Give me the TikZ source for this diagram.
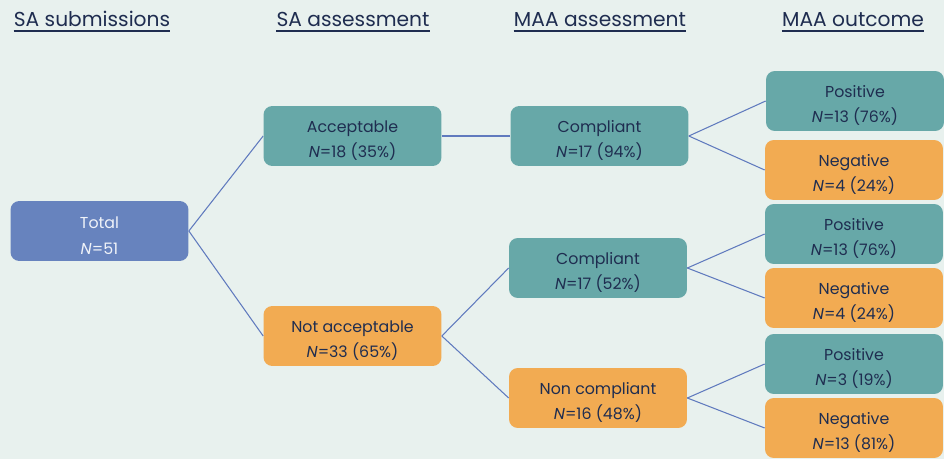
\documentclass[tikz,border=0pt]{standalone}
\usepackage{fontspec}
\setmainfont{Poppins}
\usetikzlibrary{positioning,calc}
\usepackage{xcolor}
\definecolor{pagebg}{RGB}{232,241,238}
\definecolor{tealbx}{RGB}{103,168,168}
\definecolor{orangebx}{RGB}{242,171,82}
\definecolor{totalbx}{RGB}{103,131,190}
\definecolor{navy}{RGB}{31,45,80}
\definecolor{linkc}{RGB}{96,122,190}

\begin{document}
\begin{tikzpicture}[
    x=0.02cm, y=-0.02cm,
    every node/.style={font=\fontsize{9}{14.5}\selectfont, text=navy},
    nd/.style={rectangle, rounded corners=5pt, minimum width=3.56cm, minimum height=1.2cm, align=center, inner sep=2pt, text height=26.5pt},
    tot/.style={nd, fill=totalbx, text=white!90!totalbx},
    ok/.style={nd, fill=tealbx},
    bad/.style={nd, fill=orangebx},
    hd/.style={font=\fontsize{11.5}{14}\selectfont, inner sep=0pt, anchor=base},
    ln/.style={linkc, line width=0.6pt},
]

% ── Background ──
\fill[pagebg] (0,0) rectangle (944,459);
\useasboundingbox (0,0) rectangle (944,459);

% ── Column headings ──
\node[hd] (h1) at (92,27)  {SA submissions};
\node[hd] (h2) at (353,27) {SA assessment};
\node[hd] (h3) at (600,27) {MAA assessment};
\node[hd] (h4) at (853,27) {MAA outcome};
\foreach \h in {h1,h2,h3,h4}
  \draw[navy, line width=0.6pt] ($(\h.base west)+(0,4)$) -- ($(\h.base east)+(0,4)$);

% ── Total ──
\node[tot] (tot) at (99.5,231) {Total\\\textit{N}=51};

% ── SA assessment ──
\node[ok]  (acc)  at (352.5,136) {Acceptable\\\textit{N}=18 (35\%)};
\node[bad] (nacc) at (352.5,336) {Not acceptable\\\textit{N}=33 (65\%)};

% ── MAA assessment ──
\node[ok]  (c1) at (599.5,136) {Compliant\\\textit{N}=17 (94\%)};
\node[ok]  (c2) at (598,268)   {Compliant\\\textit{N}=17 (52\%)};
\node[bad] (nc) at (598,398)   {Non compliant\\\textit{N}=16 (48\%)};

% ── MAA outcome ──
\node[ok]  (p1) at (855,101) {Positive\\\textit{N}=13 (76\%)};
\node[bad] (n1) at (854,170) {Negative\\\textit{N}=4 (24\%)};
\node[ok]  (p2) at (854,234) {Positive\\\textit{N}=13 (76\%)};
\node[bad] (n2) at (854,298) {Negative\\\textit{N}=4 (24\%)};
\node[ok]  (p3) at (854,364) {Positive\\\textit{N}=3 (19\%)};
\node[bad] (n3) at (854,428) {Negative\\\textit{N}=13 (81\%)};

% ── Links ──
\draw[ln] (tot.east) -- (acc.west);
\draw[ln] (tot.east) -- (nacc.west);
\draw[ln] (acc.east) -- (c1.west);
\draw[ln] (nacc.east) -- (c2.west);
\draw[ln] (nacc.east) -- (nc.west);
\draw[ln] (c1.east) -- (p1.west);
\draw[ln] (c1.east) -- (n1.west);
\draw[ln] (c2.east) -- (p2.west);
\draw[ln] (c2.east) -- (n2.west);
\draw[ln] (nc.east) -- (p3.west);
\draw[ln] (nc.east) -- (n3.west);

\end{tikzpicture}
\end{document}
